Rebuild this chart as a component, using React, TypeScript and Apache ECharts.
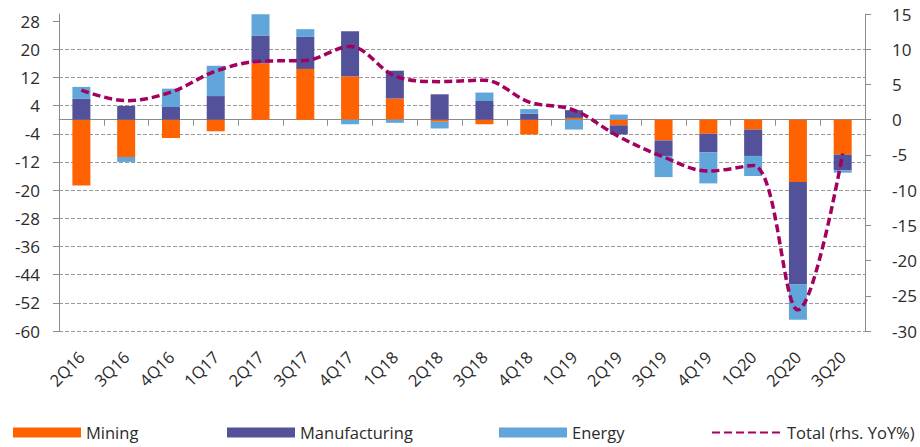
import React, { useEffect, useRef } from "react";
import * as echarts from "echarts";

// Quarterly contributions (pp) and total growth (YoY %)
const categories = [
  "2Q16", "3Q16", "4Q16", "1Q17", "2Q17", "3Q17", "4Q17", "1Q18", "2Q18",
  "3Q18", "4Q18", "1Q19", "2Q19", "3Q19", "4Q19", "1Q20", "2Q20", "3Q20",
];
const mining = [-18.7, -10.6, -5.2, -3.3, 16.0, 14.4, 12.3, 6.0, -0.6, -1.3, -4.2, 0.5, -1.6, -5.9, -4.0, -2.8, -17.7, -9.9];
const manufacturing = [5.9, 3.9, 3.6, 6.7, 7.9, 9.1, 12.8, 7.9, 7.2, 5.3, 1.7, 2.2, -2.6, -4.4, -5.3, -7.5, -29.1, -4.5];
const energy = [3.4, -1.4, 5.2, 8.6, 6.0, 2.2, -1.3, -0.9, -1.9, 2.4, 1.3, -2.8, 1.45, -6.0, -8.8, -5.7, -10.0, -0.65];
const total = [4.2, 2.7, 3.9, 6.9, 8.3, 8.4, 10.4, 6.2, 5.4, 5.6, 2.5, 1.35, -2.4, -5.3, -7.3, -6.5, -27.0, -4.8];

const leftTicks = [-60, -52, -44, -36, -28, -20, -12, -4, 4, 12, 20, 28];

const FONT = "Open Sans";
const TEXT = "#2b2b2b";
const AXIS = "#8c8c8c";
const ORANGE = "#FF6200";
const PURPLE = "#525199";
const BLUE = "#60A6DA";
const MAGENTA = "#A3005F";

export default function App() {
  const ref = useRef<HTMLDivElement>(null);

  useEffect(() => {
    if (!ref.current) return;
    const chart = echarts.init(ref.current, undefined, { renderer: "svg" });

    const legendBase = {
      top: 424,
      itemWidth: 68,
      itemHeight: 10,
      padding: 0,
      textStyle: { fontFamily: FONT, fontSize: 16.5, color: TEXT },
    };

    chart.setOption({
      animation: false,
      textStyle: { fontFamily: FONT },
      grid: { left: 59, right: 53, top: 14, bottom: 116 },
      legend: [
        { ...legendBase, left: 13, icon: "rect", data: ["Mining"] },
        { ...legendBase, left: 227, icon: "rect", data: ["Manufacturing"] },
        { ...legendBase, left: 499, icon: "rect", data: ["Energy"] },
        {
          ...legendBase,
          left: 711,
          itemWidth: 70,
          itemStyle: { opacity: 0 },
          data: ["Total (rhs. YoY%)"],
        },
      ],
      xAxis: [
        {
          type: "category",
          data: categories,
          axisLine: { onZero: true, onZeroAxisIndex: 0, lineStyle: { color: AXIS, width: 1 } },
          axisTick: { show: true, length: 6, lineStyle: { color: AXIS } },
          axisLabel: { show: false },
        },
        {
          type: "category",
          data: categories,
          position: "bottom",
          axisLine: { show: false, onZero: false },
          axisTick: { show: false },
          axisLabel: {
            rotate: 45,
            margin: 23,
            fontFamily: FONT,
            fontSize: 16.5,
            color: TEXT,
          },
        },
      ],
      yAxis: [
        {
          type: "value",
          min: -60,
          max: 30,
          interval: 8,
          axisLine: { show: true, lineStyle: { color: AXIS } },
          axisTick: { show: true, length: 6, lineStyle: { color: AXIS }, customValues: leftTicks },
          axisLabel: {
            customValues: leftTicks,
            margin: 19,
            fontFamily: FONT,
            fontSize: 17,
            color: TEXT,
            formatter: (v: number) => (leftTicks.includes(v) ? String(v) : ""),
          },
          splitLine: {
            show: true,
            showMaxLine: false,
            lineStyle: { color: "#9a9a9a", type: [4, 2], width: 1 },
          },
        },
        {
          type: "value",
          min: -30,
          max: 15,
          interval: 5,
          position: "right",
          axisLine: { show: true, lineStyle: { color: AXIS } },
          axisTick: { show: true, length: 6, lineStyle: { color: AXIS } },
          axisLabel: { margin: 27, fontFamily: FONT, fontSize: 17, color: TEXT },
          splitLine: { show: false },
        },
      ],
      series: [
        {
          name: "Mining",
          type: "bar",
          stack: "contrib",
          barWidth: 18,
          data: mining,
          itemStyle: { color: ORANGE },
        },
        {
          name: "Manufacturing",
          type: "bar",
          stack: "contrib",
          barWidth: 18,
          data: manufacturing,
          itemStyle: { color: PURPLE },
        },
        {
          name: "Energy",
          type: "bar",
          stack: "contrib",
          barWidth: 18,
          data: energy,
          itemStyle: { color: BLUE },
        },
        {
          name: "Total (rhs. YoY%)",
          type: "line",
          yAxisIndex: 1,
          data: total,
          smooth: 0.35,
          symbol: "none",
          lineStyle: { color: MAGENTA, width: 3.5, type: [8, 4] },
          itemStyle: { color: MAGENTA },
          z: 5,
        },
      ],
    });

    return () => chart.dispose();
  }, []);

  return (
    <div
      ref={ref}
      style={{ position: "absolute", left: 0, top: 0, width: 920, height: 447, background: "#ffffff" }}
    />
  );
}
